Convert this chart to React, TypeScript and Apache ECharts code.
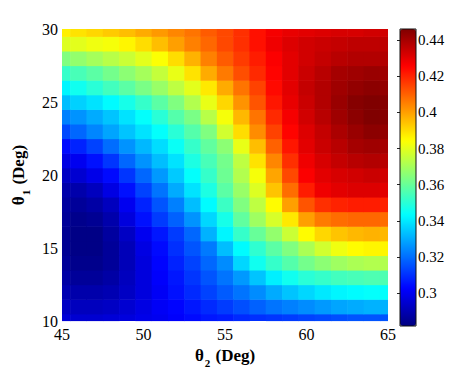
import React, { useEffect, useRef } from "react";
import * as echarts from "echarts";

// θ2 (x axis) and θ1 (y axis) sample positions, degrees
const theta2Deg = [45, 46, 47, 48, 49, 50, 51, 52, 53, 54, 55, 56, 57, 58, 59, 60, 61, 62, 63, 64, 65];
const theta1Deg = [10, 11, 12, 13, 14, 15, 16, 17, 18, 19, 20, 21, 22, 23, 24, 25, 26, 27, 28, 29, 30];

// values, one row per θ1, columns follow theta2Deg
const z10 = [0.296, 0.295, 0.295, 0.296, 0.297, 0.299, 0.300, 0.302, 0.304, 0.306, 0.307, 0.309, 0.310, 0.311, 0.312, 0.313, 0.314, 0.315, 0.316, 0.316, 0.316];
const z11 = [0.293, 0.292, 0.292, 0.293, 0.295, 0.298, 0.301, 0.303, 0.306, 0.309, 0.312, 0.315, 0.318, 0.321, 0.323, 0.325, 0.327, 0.329, 0.330, 0.331, 0.331];
const z12 = [0.290, 0.289, 0.289, 0.290, 0.293, 0.297, 0.301, 0.305, 0.309, 0.313, 0.317, 0.321, 0.325, 0.330, 0.334, 0.337, 0.340, 0.342, 0.343, 0.344, 0.344];
const z13 = [0.288, 0.286, 0.286, 0.288, 0.292, 0.297, 0.302, 0.306, 0.311, 0.316, 0.321, 0.327, 0.334, 0.341, 0.346, 0.350, 0.352, 0.354, 0.355, 0.356, 0.356];
const z14 = [0.286, 0.284, 0.284, 0.286, 0.291, 0.297, 0.303, 0.308, 0.313, 0.319, 0.325, 0.337, 0.346, 0.352, 0.357, 0.362, 0.366, 0.369, 0.371, 0.372, 0.372];
const z15 = [0.285, 0.283, 0.283, 0.286, 0.291, 0.298, 0.304, 0.310, 0.316, 0.322, 0.333, 0.343, 0.351, 0.358, 0.364, 0.371, 0.377, 0.382, 0.385, 0.386, 0.386];
const z16 = [0.285, 0.283, 0.283, 0.287, 0.293, 0.300, 0.306, 0.312, 0.319, 0.331, 0.342, 0.352, 0.360, 0.367, 0.376, 0.385, 0.391, 0.394, 0.396, 0.397, 0.396];
const z17 = [0.286, 0.284, 0.285, 0.289, 0.297, 0.305, 0.312, 0.318, 0.326, 0.337, 0.347, 0.359, 0.369, 0.378, 0.388, 0.400, 0.406, 0.408, 0.409, 0.409, 0.408];
const z18 = [0.287, 0.286, 0.288, 0.292, 0.300, 0.308, 0.316, 0.323, 0.333, 0.343, 0.353, 0.364, 0.374, 0.385, 0.400, 0.412, 0.418, 0.420, 0.421, 0.421, 0.420];
const z19 = [0.289, 0.289, 0.292, 0.298, 0.305, 0.313, 0.321, 0.330, 0.339, 0.348, 0.358, 0.368, 0.379, 0.394, 0.408, 0.421, 0.428, 0.430, 0.431, 0.431, 0.430];
const z20 = [0.293, 0.295, 0.299, 0.304, 0.311, 0.319, 0.327, 0.335, 0.344, 0.352, 0.361, 0.372, 0.383, 0.399, 0.414, 0.426, 0.430, 0.432, 0.433, 0.434, 0.433];
const z21 = [0.298, 0.300, 0.305, 0.311, 0.319, 0.326, 0.333, 0.339, 0.348, 0.355, 0.362, 0.374, 0.389, 0.404, 0.418, 0.428, 0.432, 0.435, 0.437, 0.438, 0.437];
const z22 = [0.304, 0.308, 0.313, 0.320, 0.326, 0.332, 0.338, 0.345, 0.352, 0.359, 0.366, 0.381, 0.395, 0.410, 0.422, 0.430, 0.434, 0.437, 0.440, 0.441, 0.440];
const z23 = [0.314, 0.319, 0.324, 0.329, 0.334, 0.339, 0.344, 0.350, 0.357, 0.364, 0.377, 0.390, 0.403, 0.415, 0.425, 0.431, 0.435, 0.439, 0.442, 0.444, 0.443];
const z24 = [0.323, 0.326, 0.330, 0.334, 0.339, 0.344, 0.350, 0.357, 0.363, 0.373, 0.383, 0.396, 0.407, 0.419, 0.427, 0.433, 0.437, 0.441, 0.444, 0.446, 0.445];
const z25 = [0.333, 0.336, 0.339, 0.343, 0.347, 0.352, 0.358, 0.364, 0.372, 0.381, 0.391, 0.402, 0.412, 0.422, 0.429, 0.434, 0.438, 0.442, 0.445, 0.446, 0.445];
const z26 = [0.342, 0.346, 0.350, 0.354, 0.358, 0.363, 0.368, 0.374, 0.380, 0.388, 0.398, 0.407, 0.415, 0.424, 0.430, 0.435, 0.438, 0.441, 0.443, 0.444, 0.443];
const z27 = [0.352, 0.355, 0.358, 0.362, 0.366, 0.370, 0.375, 0.381, 0.389, 0.398, 0.406, 0.413, 0.419, 0.425, 0.430, 0.434, 0.437, 0.440, 0.441, 0.442, 0.441];
const z28 = [0.364, 0.367, 0.370, 0.373, 0.376, 0.380, 0.384, 0.390, 0.397, 0.405, 0.411, 0.416, 0.421, 0.426, 0.430, 0.433, 0.435, 0.437, 0.438, 0.438, 0.438];
const z29 = [0.379, 0.380, 0.382, 0.383, 0.386, 0.390, 0.395, 0.400, 0.405, 0.409, 0.414, 0.418, 0.423, 0.428, 0.431, 0.433, 0.434, 0.435, 0.436, 0.436, 0.436];
const z30 = [0.387, 0.389, 0.391, 0.393, 0.395, 0.398, 0.401, 0.404, 0.407, 0.411, 0.414, 0.418, 0.423, 0.427, 0.429, 0.430, 0.431, 0.432, 0.432, 0.433, 0.433];
const zRows = [z10, z11, z12, z13, z14, z15, z16, z17, z18, z19, z20, z21, z22, z23, z24, z25, z26, z27, z28, z29, z30];

const colorbarTicks = [0.3, 0.32, 0.34, 0.36, 0.38, 0.4, 0.42, 0.44];
const colorMin = 0.282;
const colorMax = 0.446;
const jetColors = ["#000080", "#0000ff", "#0080ff", "#00ffff", "#80ff80", "#ffff00", "#ff8000", "#ff0000", "#800000"];

export default function App() {
  const ref = useRef<HTMLDivElement>(null);
  useEffect(() => {
    const chart = echarts.init(ref.current!, null, { renderer: "svg" });
    const data: number[][] = [];
    zRows.forEach((row, i) => row.forEach((v, j) => data.push([theta2Deg[j], theta1Deg[i], v])));
    const serif = "Liberation Serif";
    const rich = {
      a: { fontFamily: serif, fontSize: 17, fontWeight: "bold", color: "#000", verticalAlign: "bottom", padding: [0, 0, 4, 0] },
      b: { fontFamily: serif, fontSize: 11, fontWeight: "bold", color: "#000", verticalAlign: "bottom", padding: [0, 1, 0, 1] },
    };
    chart.setOption({
      animation: false,
      backgroundColor: "#fff",
      textStyle: { fontFamily: serif },
      grid: [
        { left: 62, top: 29, width: 326, height: 297 },
        { left: 400, top: 29, width: 16, height: 297, show: true, borderColor: "#111", borderWidth: 1, backgroundColor: "transparent", z: 10 },
      ],
      xAxis: [
        {
          type: "value", gridIndex: 0, min: 45, max: 65, interval: 5,
          axisLine: { show: false }, axisTick: { show: false }, splitLine: { show: false },
          axisLabel: { fontFamily: serif, fontSize: 16, color: "#000", margin: 5 },
          name: "{a|θ}{b|2}{a| (Deg)}", nameLocation: "middle", nameGap: 19,
          nameTextStyle: { fontFamily: serif, rich },
        },
        { type: "value", gridIndex: 1, min: 0, max: 1, show: false },
      ],
      yAxis: [
        {
          type: "value", gridIndex: 0, min: 10, max: 30, interval: 5,
          axisLine: { show: false }, axisTick: { show: false }, splitLine: { show: false },
          axisLabel: { fontFamily: serif, fontSize: 16, color: "#000", margin: 4 },
          name: "{a|θ}{b|1}{a| (Deg)}", nameLocation: "middle", nameGap: 30, nameRotate: 90,
          nameTextStyle: { fontFamily: serif, rich },
        },
        {
          type: "value", gridIndex: 1, min: colorMin, max: colorMax, position: "right",
          axisLine: { show: false }, splitLine: { show: false },
          axisTick: { show: true, inside: true, length: 3, customValues: colorbarTicks, lineStyle: { color: "#222" } },
          axisLabel: {
            fontFamily: serif, fontSize: 15, color: "#000", margin: 2, customValues: colorbarTicks,
            formatter: (v: number) => String(Number(v.toFixed(2))),
          },
        },
      ],
      visualMap: {
        type: "continuous", min: colorMin, max: colorMax, dimension: 2, seriesIndex: 0,
        inRange: { color: jetColors }, orient: "vertical", left: 400, top: 29,
        itemWidth: 16, itemHeight: 297, calculable: false, hoverLink: false, padding: 0,
      },
      series: [
        {
          type: "custom", xAxisIndex: 0, yAxisIndex: 0, data, encode: { x: 0, y: 1 },
          renderItem: (params: any, api: any) => {
            const x = api.value(0);
            const y = api.value(1);
            const p0 = api.coord([x - 0.5, y + 0.5]);
            const p1 = api.coord([x + 0.5, y - 0.5]);
            const cs = params.coordSys;
            const rect = echarts.graphic.clipRectByRect(
              { x: p0[0], y: p0[1], width: p1[0] - p0[0] + 0.6, height: p1[1] - p0[1] + 0.6 },
              { x: cs.x, y: cs.y, width: cs.width, height: cs.height }
            );
            return rect && { type: "rect", shape: rect, style: { fill: api.visual("color") } };
          },
        },
      ],
    });
    return () => chart.dispose();
  }, []);
  return <div ref={ref} style={{ position: "absolute", left: 0, top: 0, width: 474, height: 373 }} />;
}
